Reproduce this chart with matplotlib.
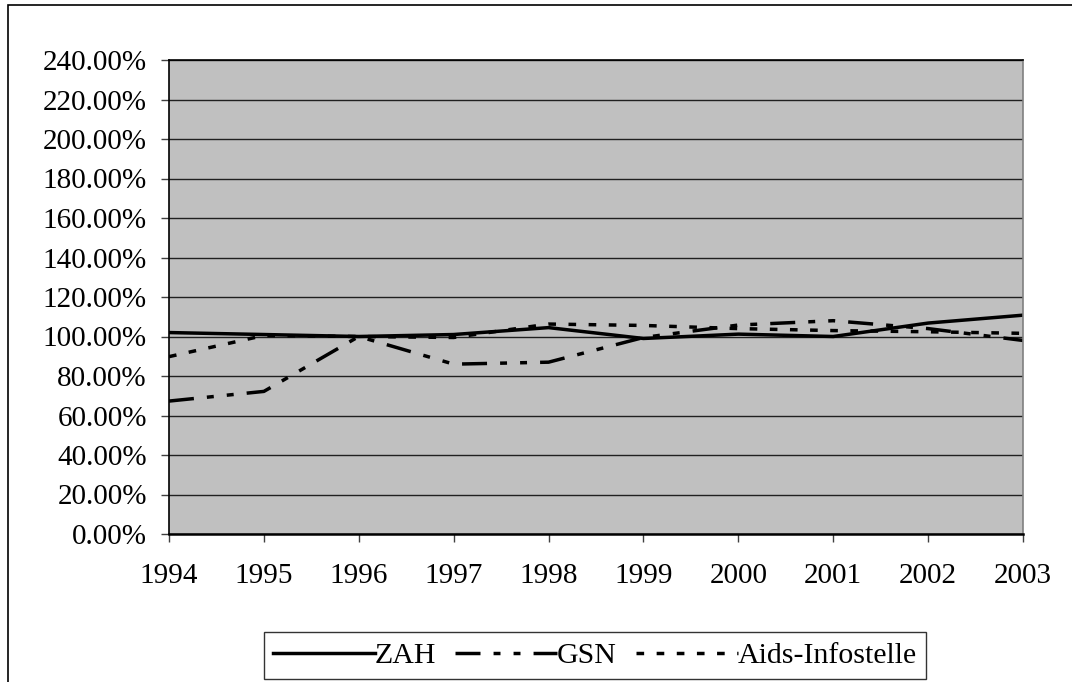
import matplotlib
matplotlib.use("Agg")
import matplotlib.pyplot as plt
from matplotlib.patches import Rectangle
from matplotlib.ticker import FuncFormatter, MultipleLocator

# values (percent)
years = [1994, 1995, 1996, 1997, 1998, 1999, 2000, 2001, 2002, 2003]
zah = [102.0, 101.0, 100.0, 101.0, 104.5, 99.0, 101.2, 100.0, 106.8, 110.8]
gsn = [67.3, 72.2, 100.0, 86.0, 87.0, 99.5, 105.8, 108.0, 104.0, 98.0]
aids = [89.8, 100.5, 100.0, 99.5, 106.3, 105.6, 104.0, 103.0, 102.4, 101.6]
labels = ["ZAH", "GSN", "Aids-Infostelle"]

plt.rcParams["font.family"] = ["Liberation Serif", "DejaVu Serif"]
plt.rcParams["lines.scale_dashes"] = False

W, H = 1072, 682
fig = plt.figure(figsize=(W / 100, H / 100), dpi=100)
ax = fig.add_axes([169 / W, 1 - 534 / H, (1023 - 169) / W, (534 - 60) / H])

# outer chart border (runs off the right and bottom edge in the reference)
fig.patches.append(Rectangle((8 / W, -0.05), 1.1, 1 - 5 / H + 0.05,
                             transform=fig.transFigure, fill=False, edgecolor="black", lw=1.2))

ax.set_facecolor("#c0c0c0")
lw = 2.5
ax.plot(years, zah, color="black", lw=lw, linestyle="-", label=labels[0])
ax.plot(years, gsn, color="black", lw=lw, linestyle=(0, (18, 9.4, 5, 9.4, 5, 9.4)), label=labels[1])
ax.plot(years, aids, color="black", lw=lw, linestyle=(0, (5.5, 9)), label=labels[2])

ax.set_xlim(1994, 2003)
ax.set_ylim(0, 240)
ax.set_xticks(years)
ax.yaxis.set_major_locator(MultipleLocator(20))
ax.yaxis.set_major_formatter(FuncFormatter(lambda v, p: f"{v:.2f}%"))
ax.grid(axis="y", color="#202020", lw=1)
ax.set_axisbelow(True)
ax.tick_params(axis="both", direction="out", length=6, width=1, labelsize=21, color="#404040")
ax.tick_params(axis="x", pad=15)
ax.tick_params(axis="y", pad=10)

for s in ["left", "bottom", "top"]:
    ax.spines[s].set_color("black")
    ax.spines[s].set_linewidth(1.2)
ax.spines["right"].set_color("#808080")
ax.spines["right"].set_linewidth(1.2)
ax.spines["bottom"].set_linewidth(1.8)

leg = fig.legend(loc="center", bbox_to_anchor=(595 / W, 1 - 655.5 / H), ncol=3,
                 fontsize=21.5, handlelength=3.4, handletextpad=0.0, columnspacing=0.65,
                 frameon=True, fancybox=False, borderpad=0.32, borderaxespad=0)
leg.get_frame().set_edgecolor("black")
leg.get_frame().set_linewidth(1)

plt.savefig("out.png", dpi=100)
